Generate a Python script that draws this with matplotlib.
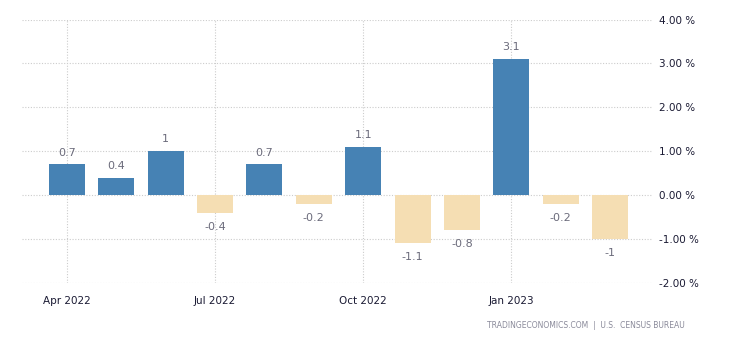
import matplotlib
matplotlib.use("Agg")
import matplotlib.pyplot as plt

months = ["Apr 2022", "May 2022", "Jun 2022", "Jul 2022", "Aug 2022", "Sep 2022",
          "Oct 2022", "Nov 2022", "Dec 2022", "Jan 2023", "Feb 2023", "Mar 2023"]
values = [0.7, 0.4, 1.0, -0.4, 0.7, -0.2, 1.1, -1.1, -0.8, 3.1, -0.2, -1.0]
labels = ["0.7", "0.4", "1", "-0.4", "0.7", "-0.2", "1.1", "-1.1", "-0.8", "3.1", "-0.2", "-1"]
tick_months = ["Apr 2022", "Jul 2022", "Oct 2022", "Jan 2023"]
yticks = [-2, -1, 0, 1, 2, 3, 4]

plt.rcParams['font.family'] = ['DejaVu Sans']
fig = plt.figure(figsize=(7.3, 3.4), dpi=100)
W, H = 730, 340
ax = fig.add_axes([22 / W, 1 - 283 / H, (652 - 22) / W, (283 - 19.5) / H])

x = list(range(len(months)))
colors = ["#4682B4" if v >= 0 else "#F5DEB3" for v in values]
ax.bar(x, values, width=0.73, color=colors, zorder=2)

for xi, v, lab in zip(x, values, labels):
    if v >= 0:
        ax.annotate(lab, (xi, v), xytext=(0, 8.5), textcoords="offset points",
                    ha="center", va="center", fontsize=8, color="#6b6b7b")
    else:
        ax.annotate(lab, (xi, v), xytext=(0, -10), textcoords="offset points",
                    ha="center", va="center", fontsize=8, color="#6b6b7b")

ax.set_xlim(-0.91, 11.85)
ax.set_ylim(-2, 4)
ax.set_xticks([months.index(m) for m in tick_months])
ax.set_xticklabels(tick_months)
ax.set_yticks(yticks)
ax.set_yticklabels([f"{t:.2f} %" for t in yticks])
ax.yaxis.tick_right()
ax.tick_params(axis="both", length=0, labelsize=7.5, colors="#1a1a33")
ax.tick_params(axis="x", pad=9)
ax.tick_params(axis="y", pad=5)
ax.grid(True, color="#cccccc", linestyle=(0, (1, 1.5)), linewidth=0.8, zorder=0)
ax.set_axisbelow(True)
for s in ax.spines.values():
    s.set_visible(False)

fig.text(685 / W, 1 - 325 / H, "TRADINGECONOMICS.COM  |  U.S.  CENSUS BUREAU",
         ha="right", va="center", fontsize=5.5, color="#8a8a9a")

fig.savefig("out.png", dpi=100)
